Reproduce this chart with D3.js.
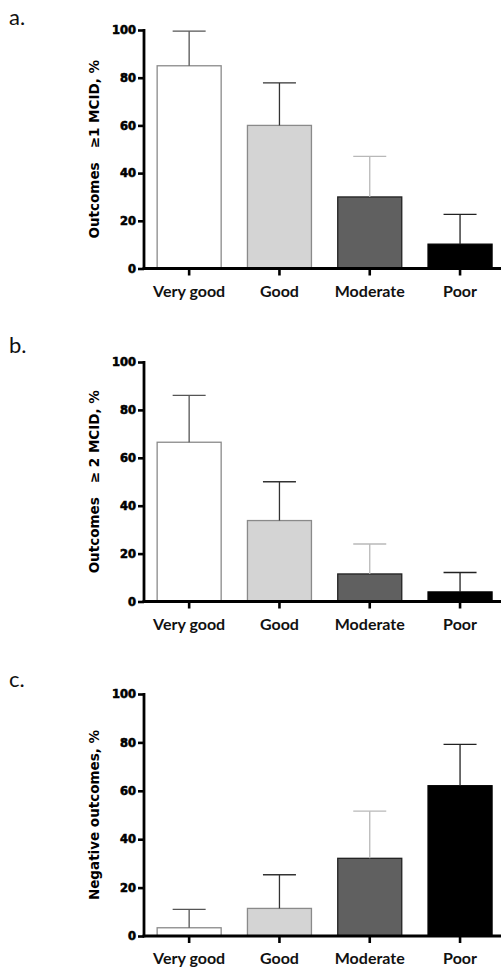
<!DOCTYPE html>
<html>
<head>
<meta charset="utf-8">
<script src="https://cdn.jsdelivr.net/npm/d3@7"></script>
<style>
  body { margin: 0; background: #fff; }
  svg { display: block; }
</style>
</head>
<body>
<svg id="chart" width="501" height="975"></svg>
<script>
// data
categories = ["Very good", "Good", "Moderate", "Poor"];
yTicks = [0, 20, 40, 60, 80, 100];

mcid1 = [85, 60, 30, 10.2];
mcid1Err = [14.5, 17.8, 17, 12.5];

mcid2 = [66.5, 33.8, 11.5, 4];
mcid2Err = [19.6, 16.2, 12.5, 8.1];

negative = [3.4, 11.4, 32.1, 62.1];
negativeErr = [7.6, 13.9, 19.5, 17.1];

panelLabels = ["a.", "b.", "c."];
yTitles = ["Outcomes   \u22651 MCID, %", "Outcomes   \u2265 2 MCID, %", "Negative outcomes, %"];

barFill = ["#ffffff", "#d4d4d4", "#606060", "#000000"];
barStroke = ["#8a8a8a", "#8a8a8a", "#222222", "#000000"];
errStroke = ["#555555", "#333333", "#b8b8b8", "#222222"];

svg = d3.select("#chart");
axisX = 144;
xRight = 501;

// vertical placement of each panel: y of 0 and y of 100
panels = [
  {vals: mcid1, errs: mcid1Err, y0: 268.5, y100: 30, labY: 25},
  {vals: mcid2, errs: mcid2Err, y0: 601.5, y100: 362, labY: 353},
  {vals: negative, errs: negativeErr, y0: 936, y100: 694, labY: 687}
];

x = d3.scaleBand()
  .domain(categories)
  .range([axisX, axisX + 90.3 * (4 - 0.28 + 2 * 0.14)])
  .paddingInner(0.28)
  .paddingOuter(0.14);

function drawPanel(p, i){
  let g = svg.append("g");
  let y = d3.scaleLinear().domain([0, 100]).range([p.y0, p.y100]);

  g.append("text")
    .attr("x", 9).attr("y", p.labY)
    .attr("font-family", "Lato, 'Open Sans', sans-serif")
    .attr("font-size", 22)
    .attr("fill", "#111")
    .text(panelLabels[i]);

  // bars
  g.selectAll("rect.bar").data(categories).enter().append("rect")
    .attr("class", "bar")
    .attr("x", d => x(d) + 0.5)
    .attr("y", (d, j) => y(p.vals[j]))
    .attr("width", x.bandwidth() - 1)
    .attr("height", (d, j) => y(0) - y(p.vals[j]))
    .attr("fill", (d, j) => barFill[j])
    .attr("stroke", (d, j) => barStroke[j])
    .attr("stroke-width", 1.3);

  // upper error bars
  let eb = g.selectAll("g.err").data(categories).enter().append("g").attr("class", "err")
    .attr("stroke", (d, j) => errStroke[j])
    .attr("stroke-width", 1.3);
  eb.append("line")
    .attr("x1", d => x(d) + x.bandwidth() / 2)
    .attr("x2", d => x(d) + x.bandwidth() / 2)
    .attr("y1", (d, j) => y(p.vals[j]))
    .attr("y2", (d, j) => y(p.vals[j] + p.errs[j]));
  eb.append("line")
    .attr("x1", d => x(d) + x.bandwidth() / 2 - 16.5)
    .attr("x2", d => x(d) + x.bandwidth() / 2 + 16.5)
    .attr("y1", (d, j) => y(p.vals[j] + p.errs[j]))
    .attr("y2", (d, j) => y(p.vals[j] + p.errs[j]));

  // y axis
  let ya = g.append("g")
    .attr("transform", `translate(${axisX},0)`)
    .call(d3.axisLeft(y).tickValues(yTicks).tickSize(6).tickPadding(2));
  ya.select(".domain").remove();
  ya.selectAll(".tick line").attr("stroke", "#000").attr("stroke-width", 2.6);
  ya.selectAll(".tick text")
    .attr("font-family", "'DejaVu Sans', sans-serif")
    .attr("font-weight", "bold")
    .attr("font-size", 11.5)
    .attr("fill", "#000")
    .attr("stroke", "#000")
    .attr("stroke-width", 0.6);
  g.append("line")
    .attr("x1", axisX).attr("x2", axisX)
    .attr("y1", y(100) - 1).attr("y2", y(0) + 1.3)
    .attr("stroke", "#000").attr("stroke-width", 2.8);

  // x axis
  let xa = g.append("g")
    .attr("transform", `translate(0,${y(0)})`)
    .call(d3.axisBottom(x).tickSize(7).tickPadding(10));
  xa.select(".domain").remove();
  xa.selectAll(".tick line").attr("stroke", "#000").attr("stroke-width", 2.6);
  xa.selectAll(".tick text")
    .attr("font-family", "Lato, 'Open Sans', sans-serif")
    .attr("font-weight", "bold")
    .attr("font-size", 16)
    .attr("fill", "#111");
  g.append("line")
    .attr("x1", axisX - 1.4).attr("x2", xRight)
    .attr("y1", y(0)).attr("y2", y(0))
    .attr("stroke", "#000").attr("stroke-width", 2.8);

  // y title
  g.append("text")
    .attr("transform", `translate(99,${(y(0) + y(100)) / 2}) rotate(-90)`)
    .attr("text-anchor", "middle")
    .attr("font-family", "'DejaVu Sans', sans-serif")
    .attr("font-weight", "bold")
    .attr("font-size", 13.5)
    .attr("fill", "#000")
    .attr("xml:space", "preserve")
    .style("white-space", "pre")
    .text(yTitles[i]);
}

panels.forEach(drawPanel);
</script>
</body>
</html>
